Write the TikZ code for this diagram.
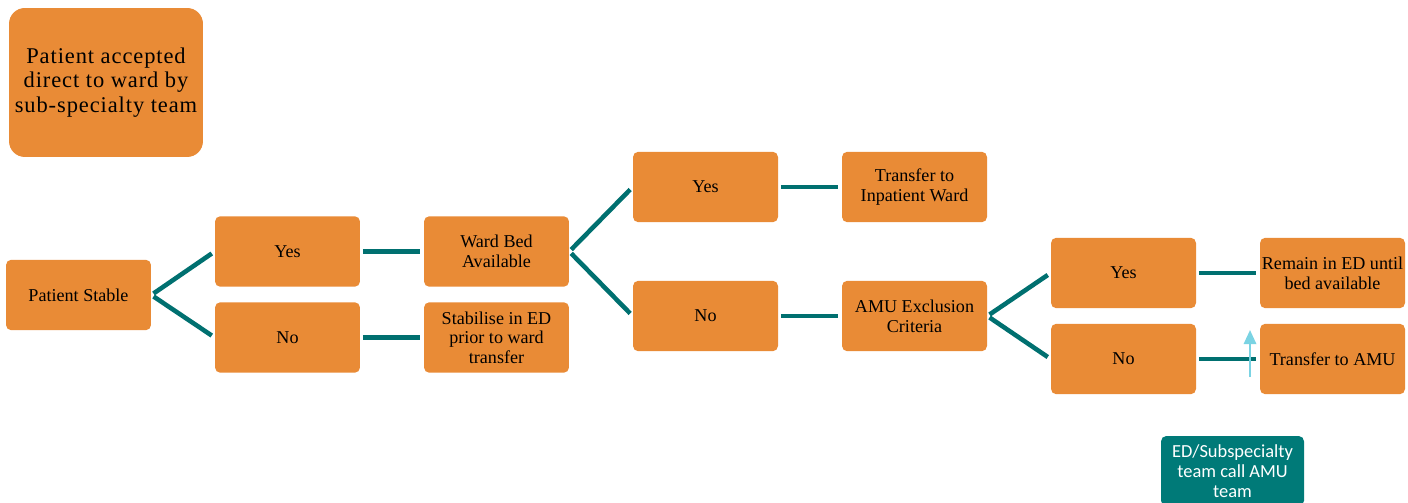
\documentclass[tikz,border=0pt]{standalone}
\usepackage{fontspec}
\setmainfont{Liberation Serif}
\newfontfamily\notefont[LetterSpace=4]{Liberation Serif}
\newfontfamily\teamfont{Carlito}
\definecolor{flowOrange}{RGB}{233,139,54}
\definecolor{flowTeal}{RGB}{0,112,112}
\definecolor{flowTealBox}{RGB}{0,122,120}
\definecolor{flowSky}{RGB}{122,211,227}
\usetikzlibrary{arrows.meta,positioning}

\begin{document}
\begin{tikzpicture}[x=0.02cm, y=-0.02cm,
    stepbox/.style={rectangle, rounded corners=3pt, fill=flowOrange, draw=none,
                    minimum width=2.9cm, minimum height=1.41cm, inner sep=1pt,
                    align=center, font=\fontsize{10.3}{11.2}\selectfont},
    link/.style={draw=flowTeal, line width=2.6pt, shorten <=1.5pt, shorten >=2pt}
  ]
  \useasboundingbox (0,0) rectangle (1408,503);

  % note box
  \node[stepbox, rounded corners=9pt, minimum width=3.88cm, minimum height=2.98cm,
        font=\notefont\fontsize{12.8}{13.8}\selectfont] (accepted) at (106,82.5)
    {Patient accepted\\direct to ward by\\sub-specialty team};

  % decision boxes
  \node[stepbox] (ps)     at (78.5,295)   {Patient Stable};
  \node[stepbox] (yes1)   at (287.5,251.5){Yes};
  \node[stepbox] (no1)    at (287.5,337.5){No};
  \node[stepbox] (bed)    at (496.5,251.5){Ward Bed\\Available};
  \node[stepbox] (stab)   at (496.5,337.5){Stabilise in ED\\prior to ward\\transfer};
  \node[stepbox] (yes2)   at (705.5,187)  {Yes};
  \node[stepbox] (no2)    at (705.5,316)  {No};
  \node[stepbox] (ward)   at (914.5,187)  {Transfer to\\Inpatient Ward};
  \node[stepbox] (amu)    at (914.5,316)  {AMU Exclusion\\Criteria};
  \node[stepbox] (yes3)   at (1123.5,273) {Yes};
  \node[stepbox] (no3)    at (1123.5,359) {No};
  \node[stepbox] (remain) at (1332.5,273) {Remain in ED until\\bed available};
  \node[stepbox] (toamu)  at (1332.5,359) {Transfer to AMU};

  % team box
  \node[rectangle, rounded corners=3pt, fill=flowTealBox, text=white, align=center,
        minimum width=2.86cm, minimum height=1.4cm, inner sep=1pt,
        font=\teamfont\fontsize{10.5}{11.3}\selectfont] (team) at (1232.5,471)
    {ED/Subspecialty\\team call AMU\\team};

  % links
  \draw[link] (ps.east) -- (yes1.west);
  \draw[link] (ps.east) -- (no1.west);
  \draw[link] (yes1) -- (bed);
  \draw[link] (no1) -- (stab);
  \draw[link] (bed.east) -- (yes2.west);
  \draw[link] (bed.east) -- (no2.west);
  \draw[link] (yes2) -- (ward);
  \draw[link] (no2) -- (amu);
  \draw[link] (amu.east) -- (yes3.west);
  \draw[link] (amu.east) -- (no3.west);
  \draw[link] (yes3) -- (remain);
  \draw[link] (no3) -- (toamu);

  % up arrow
  \coordinate (upfoot) at (1250,377);
  \coordinate (uphead) at (1250,330);
  \draw[flowSky, line width=1.3pt, -{Triangle[width=7pt,length=8pt]}] (upfoot) -- (uphead);
\end{tikzpicture}
\end{document}
